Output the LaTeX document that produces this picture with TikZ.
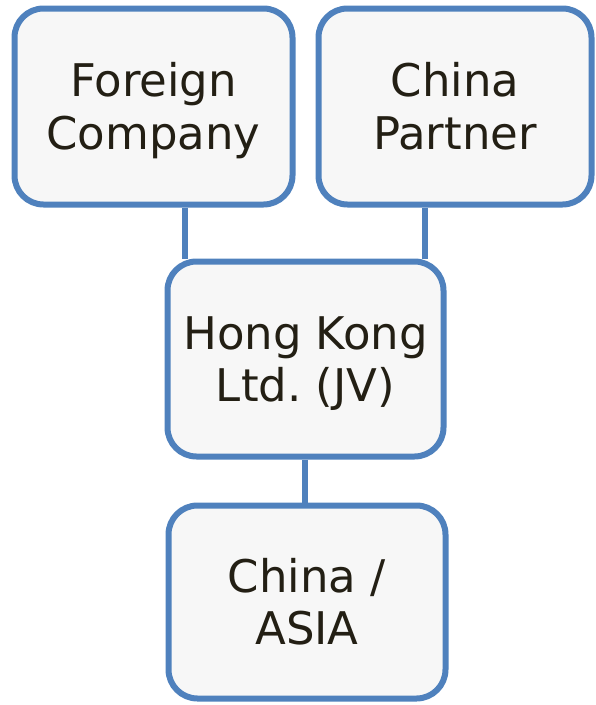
\documentclass[tikz,border=0pt]{standalone}
\usepackage{fontspec}
\setmainfont{DejaVu Sans}
\frenchspacing
\definecolor{boxblue}{HTML}{4F81BD}
\definecolor{boxfill}{HTML}{F7F7F7}
\definecolor{txt}{HTML}{231F14}
\newcommand{\tstrut}{\rule{0pt}{45pt}}
\newcommand{\bstrut}{\rule[-12.5pt]{0pt}{12.5pt}}
\begin{document}
\begin{tikzpicture}[x=1pt,y=-1pt,
  entity/.style={draw=boxblue, fill=boxfill, line width=6pt, rounded corners=29pt,
    inner sep=0pt, align=center, text=txt,
    font=\fontsize{45}{52.5}\selectfont},
  link/.style={draw=boxblue, line width=6pt}]
\useasboundingbox (0,0) rectangle (596,705);
\node[entity, minimum width=278pt, minimum height=196pt] (fc) at (153.5,106.5) {\tstrut Foreign\\Company\bstrut};
\node[entity, minimum width=273pt, minimum height=196pt] (cp) at (455,106.5) {\tstrut China\\Partner\bstrut};
\node[entity, minimum width=276pt, minimum height=195pt] (hk) at (305.5,359) {\tstrut Hong Kong\\Ltd.\ (JV)\bstrut};
\node[entity, minimum width=277pt, minimum height=193pt] (ca) at (307,602) {\tstrut China /\\ASIA\bstrut};
\draw[link] (fc.south -| 185,0) -- (hk.north -| 185,0);
\draw[link] (cp.south -| 425,0) -- (hk.north -| 425,0);
\draw[link] (hk.south -| 305,0) -- (ca.north -| 305,0);
\end{tikzpicture}
\end{document}
